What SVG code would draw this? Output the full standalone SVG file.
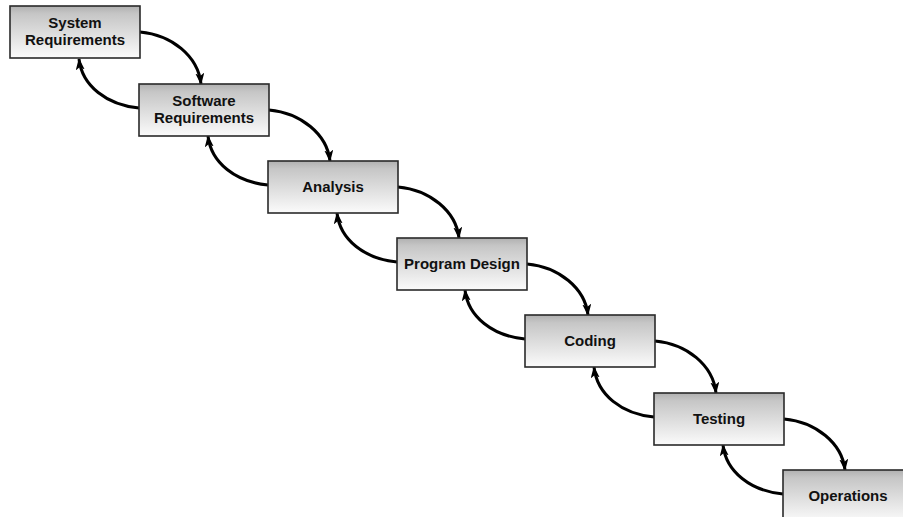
<svg xmlns="http://www.w3.org/2000/svg" width="903" height="517" viewBox="0 0 903 517">
<defs>
<linearGradient id="g" x1="0" y1="0" x2="0" y2="1">
<stop offset="0" stop-color="#b0b0b0"/>
<stop offset="0.15" stop-color="#c6c6c6"/>
<stop offset="1" stop-color="#fbfbfb"/>
</linearGradient>
<marker id="ah" markerUnits="userSpaceOnUse" viewBox="0 0 12 9" markerWidth="12" markerHeight="9" refX="11" refY="4.5" orient="auto">
<path d="M0,0 L12,4.5 L0,9 L3,4.5 z" fill="#000"/>
</marker>
<style>
.box{fill:url(#g);stroke:#2a2a2a;stroke-width:1.6}
.t{font-family:"Liberation Sans",Arial,sans-serif;font-weight:bold;font-size:15px;fill:#111;text-anchor:middle}
.c{fill:none;stroke:#000;stroke-width:3;marker-end:url(#ah)}
</style>
</defs>
<g id="connectors">
<path class="c" d="M140,32 c32,3 58,24 61,52"/>
<path class="c" d="M139,108 c-32,-3 -57,-22 -60,-49"/>
<path class="c" d="M269,110 c32,3 58,24 61,51"/>
<path class="c" d="M268,185 c-32,-3 -57,-22 -60,-49"/>
<path class="c" d="M398,187 c32,3 58,24 61,51"/>
<path class="c" d="M397,262 c-32,-3 -57,-22 -60,-49"/>
<path class="c" d="M527,264 c32,3 58,24 61,51"/>
<path class="c" d="M525,339 c-32,-3 -57,-22 -60,-49"/>
<path class="c" d="M655,341 c32,3 58,24 61,52"/>
<path class="c" d="M654,417 c-32,-3 -57,-22 -60,-50"/>
<path class="c" d="M784,419 c32,3 58,24 61,51"/>
<path class="c" d="M783,494 c-32,-3 -57,-22 -60,-49"/>
</g>
<g id="system-requirements">
<rect class="box" x="10" y="6" width="130" height="52"/>
<text class="t" x="75" y="28">System</text>
<text class="t" x="75" y="45">Requirements</text>
</g>
<g id="software-requirements">
<rect class="box" x="139" y="84" width="130" height="52"/>
<text class="t" x="204" y="106">Software</text>
<text class="t" x="204" y="123">Requirements</text>
</g>
<g id="analysis">
<rect class="box" x="268" y="161" width="130" height="52"/>
<text class="t" x="333" y="192">Analysis</text>
</g>
<g id="program-design">
<rect class="box" x="397" y="238" width="130" height="52"/>
<text class="t" x="462" y="269">Program Design</text>
</g>
<g id="coding">
<rect class="box" x="525" y="315" width="130" height="52"/>
<text class="t" x="590" y="346">Coding</text>
</g>
<g id="testing">
<rect class="box" x="654" y="393" width="130" height="52"/>
<text class="t" x="719" y="424">Testing</text>
</g>
<g id="operations">
<rect class="box" x="783" y="470" width="130" height="52"/>
<text class="t" x="848" y="501">Operations</text>
</g>
</svg>
